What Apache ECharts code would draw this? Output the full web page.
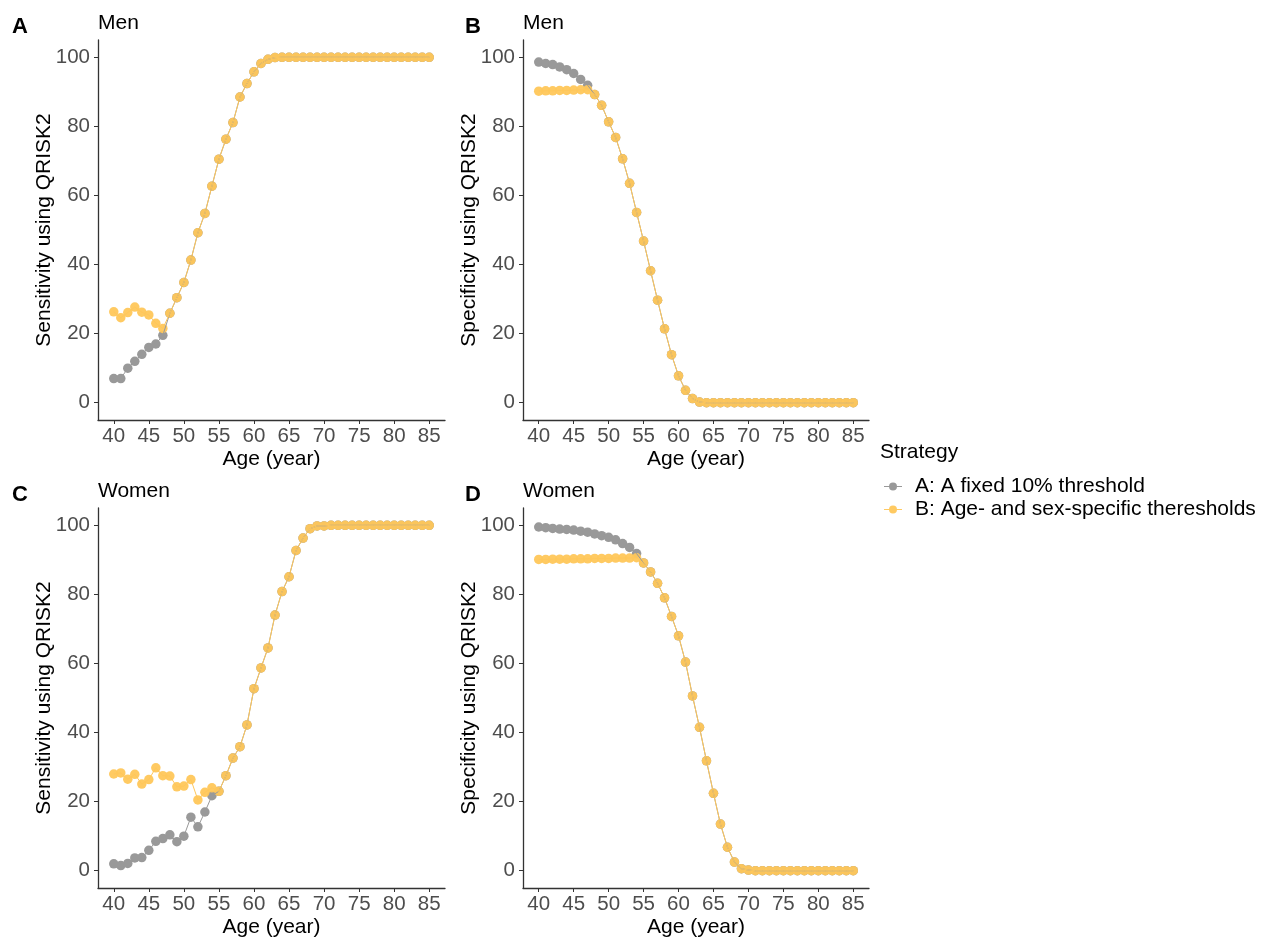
<!DOCTYPE html>
<html>
<head>
<meta charset="utf-8">
<title>QRISK2 sensitivity and specificity by age</title>
<script src="https://cdn.jsdelivr.net/npm/echarts@6/dist/echarts.min.js"></script>
<style>
  html, body { margin: 0; padding: 0; background: #ffffff; }
  #chart { width: 1265px; height: 939px; }
</style>
</head>
<body>
<div id="chart"></div>
<script>
// Age in years (x axis of every panel)
const ages = [40, 41, 42, 43, 44, 45, 46, 47, 48, 49, 50, 51, 52, 53, 54, 55, 56, 57, 58, 59,
  60, 61, 62, 63, 64, 65, 66, 67, 68, 69, 70, 71, 72, 73, 74, 75, 76, 77, 78, 79,
  80, 81, 82, 83, 84, 85];

const strategyNames = ['A: A fixed 10% threshold', 'B: Age- and sex-specific theresholds'];

// Panel A: men, sensitivity (%)
const menSensA = [7.0, 7.0, 10.0, 12.0, 14.0, 16.0, 17.0, 19.5, 25.9, 30.4, 34.8, 41.3, 49.2, 54.8,
  62.7, 70.5, 76.3, 81.1, 88.5, 92.4, 95.8, 98.2, 99.4, 99.9, 100, 100, 100, 100, 100, 100,
  100, 100, 100, 100, 100, 100, 100, 100, 100, 100, 100, 100, 100, 100, 100, 100];
const menSensB = [26.3, 24.6, 26.1, 27.7, 26.2, 25.4, 23.0, 21.5, 25.9, 30.4, 34.8, 41.3, 49.2, 54.8,
  62.7, 70.5, 76.3, 81.1, 88.5, 92.4, 95.8, 98.2, 99.4, 99.9, 100, 100, 100, 100, 100, 100,
  100, 100, 100, 100, 100, 100, 100, 100, 100, 100, 100, 100, 100, 100, 100, 100];

// Panel B: men, specificity (%)
const menSpecA = [98.6, 98.2, 97.9, 97.2, 96.4, 95.3, 93.6, 91.9, 89.2, 86.1, 81.3, 76.8, 70.6, 63.5,
  55.1, 46.8, 38.2, 29.7, 21.4, 13.9, 7.8, 3.6, 1.2, 0.2, 0, 0, 0, 0, 0, 0,
  0, 0, 0, 0, 0, 0, 0, 0, 0, 0, 0, 0, 0, 0, 0, 0];
const menSpecB = [90.2, 90.3, 90.3, 90.4, 90.4, 90.5, 90.6, 90.6, 89.2, 86.1, 81.3, 76.8, 70.6, 63.5,
  55.1, 46.8, 38.2, 29.7, 21.4, 13.9, 7.8, 3.6, 1.2, 0.2, 0, 0, 0, 0, 0, 0,
  0, 0, 0, 0, 0, 0, 0, 0, 0, 0, 0, 0, 0, 0, 0, 0];

// Panel C: women, sensitivity (%)
const womenSensA = [2.0, 1.5, 2.1, 3.7, 3.8, 5.9, 8.5, 9.3, 10.4, 8.4, 10.0, 15.5, 12.7, 17.0, 21.7,
  23.0, 27.5, 32.6, 35.9, 42.2, 52.7, 58.7, 64.5, 74.0, 80.8, 85.1, 92.7, 96.3, 99.0, 99.8,
  99.8, 100, 100, 100, 100, 100, 100, 100, 100, 100, 100, 100, 100, 100, 100, 100];
const womenSensB = [28.0, 28.3, 26.5, 27.9, 25.1, 26.4, 29.8, 27.5, 27.4, 24.3, 24.5, 26.4, 20.5, 22.7, 24.0,
  23.0, 27.5, 32.6, 35.9, 42.2, 52.7, 58.7, 64.5, 74.0, 80.8, 85.1, 92.7, 96.3, 99.0, 99.8,
  99.8, 100, 100, 100, 100, 100, 100, 100, 100, 100, 100, 100, 100, 100, 100, 100];

// Panel D: women, specificity (%)
const womenSpecA = [99.5, 99.3, 99.1, 98.9, 98.8, 98.6, 98.3, 98.0, 97.5, 97.0, 96.5, 95.8, 94.7, 93.6, 91.8,
  89.1, 86.5, 83.2, 79.0, 73.6, 68.0, 60.4, 50.6, 41.5, 31.8, 22.4, 13.5, 6.8, 2.5, 0.6,
  0.2, 0, 0, 0, 0, 0, 0, 0, 0, 0, 0, 0, 0, 0, 0, 0];
const womenSpecB = [90.1, 90.1, 90.2, 90.2, 90.2, 90.3, 90.3, 90.3, 90.4, 90.4, 90.4, 90.5, 90.5, 90.5, 90.6,
  89.1, 86.5, 83.2, 79.0, 73.6, 68.0, 60.4, 50.6, 41.5, 31.8, 22.4, 13.5, 6.8, 2.5, 0.6,
  0.2, 0, 0, 0, 0, 0, 0, 0, 0, 0, 0, 0, 0, 0, 0, 0];

// Tick values
const xTicks = [40, 45, 50, 55, 60, 65, 70, 75, 80, 85];
const yTicks = [0, 20, 40, 60, 80, 100];

const FONT = '"Liberation Sans", Arial, sans-serif';
const GREY = '#999999';
const GOLD = '#FFC75A';

const panels = [
  { letter: 'A', title: 'Men',   yName: 'Sensitivity using QRISK2', a: menSensA,   b: menSensB,
    letterX: 12,  grid: { left: 98,  top: 40,  width: 347, height: 380 } },
  { letter: 'B', title: 'Men',   yName: 'Specificity using QRISK2', a: menSpecA,   b: menSpecB,
    letterX: 465, grid: { left: 523, top: 40,  width: 346, height: 380 } },
  { letter: 'C', title: 'Women', yName: 'Sensitivity using QRISK2', a: womenSensA, b: womenSensB,
    letterX: 12,  grid: { left: 98,  top: 508, width: 347, height: 381 } },
  { letter: 'D', title: 'Women', yName: 'Specificity using QRISK2', a: womenSpecA, b: womenSpecB,
    letterX: 465, grid: { left: 523, top: 508, width: 346, height: 381 } }
];

const pairs = vals => ages.map((age, i) => [age, vals[i]]);

const axisLine = { show: true, onZero: false, lineStyle: { color: '#333333', width: 1.3 } };
const axisTick = { show: true, length: 4, lineStyle: { color: '#333333', width: 1 } };

const grids = [], xAxes = [], yAxes = [], series = [], graphics = [];

panels.forEach((p, i) => {
  grids.push(Object.assign({ containLabel: false }, p.grid));
  xAxes.push({
    type: 'value', gridIndex: i, min: 37.75, max: 87.25,
    name: 'Age (year)', nameLocation: 'middle', nameGap: 29, nameMoveOverlap: false,
    nameTextStyle: { fontFamily: FONT, fontSize: 21, color: '#000000' },
    axisLine, axisTick: Object.assign({ customValues: xTicks }, axisTick),
    axisLabel: { customValues: xTicks, fontFamily: FONT, fontSize: 20.5, color: '#4D4D4D', margin: 6 },
    splitLine: { show: false }
  });
  yAxes.push({
    type: 'value', gridIndex: i, min: -5, max: 105,
    name: p.yName, nameLocation: 'middle', nameRotate: 90, nameGap: 43, nameMoveOverlap: false,
    nameTextStyle: { fontFamily: FONT, fontSize: 21, color: '#000000' },
    axisLine, axisTick: Object.assign({ customValues: yTicks }, axisTick),
    axisLabel: { customValues: yTicks, fontFamily: FONT, fontSize: 20.5, color: '#4D4D4D', margin: 8 },
    splitLine: { show: false }
  });

  // points first, connecting lines drawn above them
  series.push({
    type: 'scatter', name: strategyNames[0], xAxisIndex: i, yAxisIndex: i,
    data: pairs(p.a), symbolSize: 9.5, itemStyle: { color: GREY, opacity: 1 }, z: 2, silent: true
  });
  series.push({
    type: 'scatter', name: strategyNames[1], xAxisIndex: i, yAxisIndex: i,
    data: pairs(p.b), symbolSize: 9.5, itemStyle: { color: GOLD, opacity: 0.95 }, z: 3, silent: true
  });
  series.push({
    type: 'line', name: strategyNames[0] + ' line', xAxisIndex: i, yAxisIndex: i,
    data: pairs(p.a), symbol: 'none', lineStyle: { color: GREY, width: 1 }, z: 4, silent: true
  });
  series.push({
    type: 'line', name: strategyNames[1] + ' line', xAxisIndex: i, yAxisIndex: i,
    data: pairs(p.b), symbol: 'none', lineStyle: { color: GOLD, width: 1 }, z: 5, silent: true
  });

  // panel letter and facet title
  graphics.push({
    type: 'text', x: p.letterX, y: p.grid.top - 13,
    style: { text: p.letter, font: 'bold 22px ' + FONT, fill: '#000000', verticalAlign: 'middle' }
  });
  graphics.push({
    type: 'text', x: p.grid.left, y: p.grid.top - 17,
    style: { text: p.title, font: '21px ' + FONT, fill: '#000000', verticalAlign: 'middle' }
  });
});

// legend heading
graphics.push({
  type: 'text', x: 880, y: 452,
  style: { text: 'Strategy', font: '21px ' + FONT, fill: '#000000', verticalAlign: 'middle' }
});

const legendIcon = 'path://M0,3.5H18V4.5H0Z M5,4A4,4,0,1,1,13,4A4,4,0,1,1,5,4Z';

const option = {
  animation: false,
  backgroundColor: '#ffffff',
  grid: grids,
  xAxis: xAxes,
  yAxis: yAxes,
  series: series,
  graphic: graphics,
  legend: {
    orient: 'vertical', left: 879, top: 471,
    itemWidth: 18, itemHeight: 9, itemGap: 2,
    data: strategyNames.map(n => ({ name: n, icon: legendIcon })),
    selectedMode: false,
    textStyle: { fontFamily: FONT, fontSize: 21, color: '#000000', lineHeight: 21, padding: [0, 0, 0, 8] }
  }
};

const chart = echarts.init(document.getElementById('chart'), null, { renderer: 'canvas' });
chart.setOption(option);
</script>
</body>
</html>
